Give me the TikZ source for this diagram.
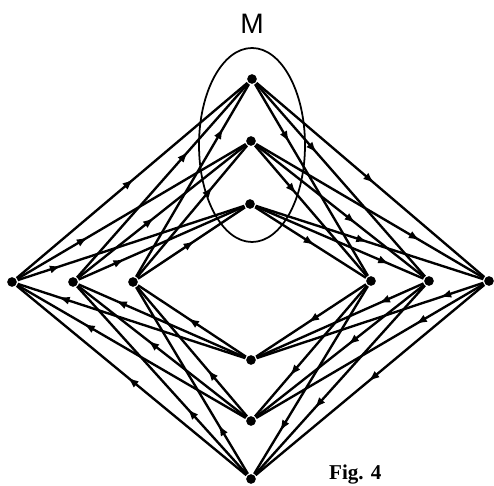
\documentclass[tikz,border=0pt]{standalone}
\usepackage{fontspec}
\setmainfont{Liberation Serif}
\newfontfamily\labfont{Liberation Sans}
\usetikzlibrary{arrows.meta,decorations.markings}

\begin{document}
\begin{tikzpicture}[line width=1.35pt,
  dot/.style={circle, fill, inner sep=0pt, minimum size=5.5pt},
  arr/.style={postaction={decorate, decoration={markings,
      mark=at position #1 with {\arrow[xshift=3pt]{Latex[length=6.5pt,width=4.6pt]}}}}}]
  \useasboundingbox (0,0) rectangle (9.88,9.70);
  % vertices
  \foreach \n/\x/\y in {l1/0.24/4.06, l2/1.46/4.06, l3/2.66/4.06,
      r1/9.78/4.08, r2/8.58/4.08, r3/7.42/4.08,
      t1/5.04/8.12, t2/5.02/6.88, t3/5.00/5.62,
      b1/5.02/2.50, b2/5.02/1.28, b3/5.02/0.12}
    \node[dot] (\n) at (\x,\y) {};
  % left -> top
  \foreach \s/\t/\p in {l1/t1/.49, l1/t2/.29, l1/t3/.17,
      l2/t1/.63, l2/t2/.43, l2/t3/.25,
      l3/t1/.75, l3/t2/.66, l3/t3/.49}
    \draw[arr=\p] (\s) -- (\t);
  % top -> right
  \foreach \s/\t/\p in {t1/r1/.50, t1/r2/.34, t1/r3/.28,
      t2/r1/.70, t2/r2/.57, t2/r3/.34,
      t3/r1/.47, t3/r2/.77, t3/r3/.50}
    \draw[arr=\p] (\s) -- (\t);
  % right -> bottom
  \foreach \s/\t/\p in {r1/b1/.17, r1/b2/.28, r1/b3/.49,
      r2/b1/.24, r2/b2/.43, r2/b3/.63,
      r3/b1/.49, r3/b2/.66, r3/b3/.75}
    \draw[arr=\p] (\s) -- (\t);
  % bottom -> left
  \foreach \s/\t/\p in {b1/l1/.80, b2/l1/.69, b3/l1/.50,
      b1/l2/.75, b2/l2/.56, b3/l2/.33,
      b1/l3/.50, b2/l3/.33, b3/l3/.24}
    \draw[arr=\p] (\s) -- (\t);
  % the set M
  \draw[line width=1pt] (5.04,6.80) ellipse (1.06 and 1.94);
  \node[font=\labfont\fontsize{16}{19}\selectfont] (mlab) at (5.04,9.22) {M};
  \node[font=\bfseries\fontsize{12}{14}\selectfont, anchor=base west, inner sep=0pt]
    (fig) at (6.56,0.11) {Fig. 4};
\end{tikzpicture}
\end{document}
